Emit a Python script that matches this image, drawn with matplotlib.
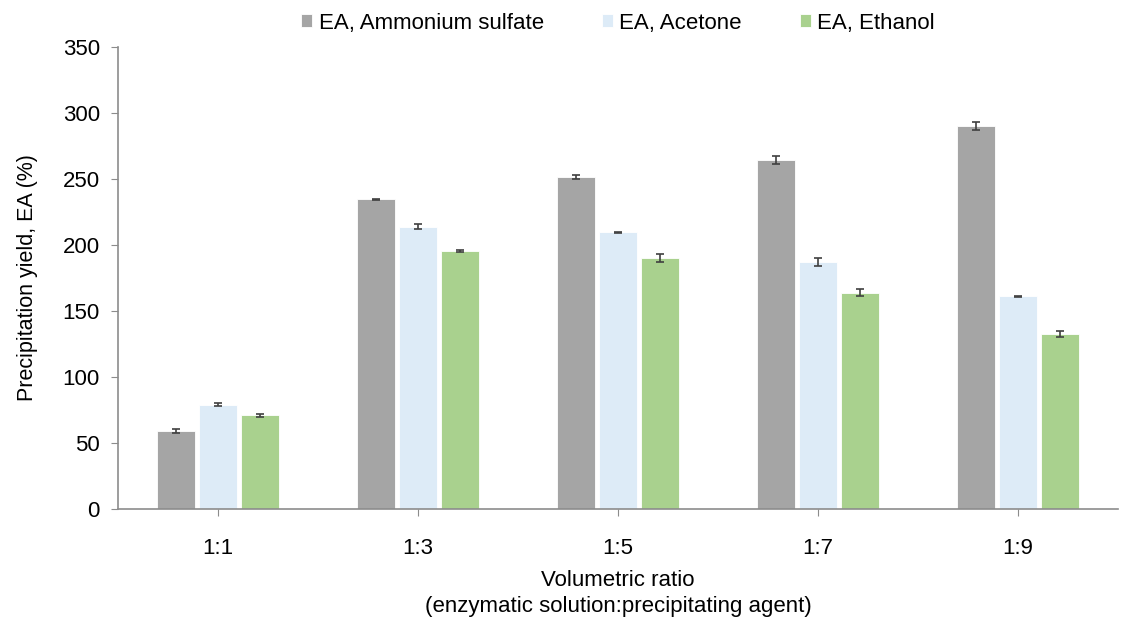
import numpy as np
import matplotlib
matplotlib.use('Agg')
import matplotlib.pyplot as plt

plt.rcParams['font.family'] = ['Liberation Sans', 'DejaVu Sans']

ratios = ['1:1', '1:3', '1:5', '1:7', '1:9']
series = ['EA, Ammonium sulfate', 'EA, Acetone', 'EA, Ethanol']
ammonium = [59, 234.5, 251.5, 264.5, 290.5]
acetone = [79, 214, 209.5, 187, 161]
ethanol = [71, 195.5, 190, 164, 132.5]
ammonium_err = [1.5, 0.5, 1.5, 3, 3]
acetone_err = [1, 2, 0.5, 3, 0.5]
ethanol_err = [1, 0.5, 3, 2.5, 2.5]

cols = ['#A5A5A5', '#DDEBF7', '#A9D18E']
vals = [ammonium, acetone, ethanol]
errs = [ammonium_err, acetone_err, ethanol_err]

fig = plt.figure(figsize=(11.34, 6.22), dpi=100)
ax = fig.add_axes([118/1134, 113/622, 1000/1134, 462/622])

x = np.arange(len(ratios))
w = 0.19
step = 0.21
for i in range(3):
    ax.bar(x + (i-1)*step, vals[i], width=w, color=cols[i], edgecolor='white',
           linewidth=0.6, label=series[i], zorder=2)
    ax.errorbar(x + (i-1)*step, vals[i], yerr=errs[i], fmt='none', ecolor='#404040',
                elinewidth=1.2, capsize=3, capthick=1.2, zorder=3)

ax.set_xlim(-0.5, 4.5)
ax.set_ylim(0, 350)
ax.set_yticks(np.arange(0, 351, 50))
ax.set_xticks(x)
ax.set_xticklabels(ratios)
for s in ['top', 'right']:
    ax.spines[s].set_visible(False)
for s in ['left', 'bottom']:
    ax.spines[s].set_color('#8c8c8c')
    ax.spines[s].set_linewidth(1.2)
ax.tick_params(axis='both', colors='#8c8c8c', labelcolor='black', labelsize=16, length=5)
ax.tick_params(axis='y', pad=8)
ax.tick_params(axis='x', pad=16)

ax.set_ylabel('Precipitation yield, EA (%)', fontsize=15.5, labelpad=18)
ax.set_xlabel('Volumetric ratio\n(enzymatic solution:precipitating agent)', fontsize=16,
              labelpad=8, linespacing=1.3)

ax.legend(loc='lower center', bbox_to_anchor=(0.5, 1.0), ncol=3, frameon=False,
          fontsize=16, handlelength=0.5, handleheight=0.5, handletextpad=0.3,
          columnspacing=2.6, borderaxespad=0.2)

fig.savefig('out.png', dpi=100)
